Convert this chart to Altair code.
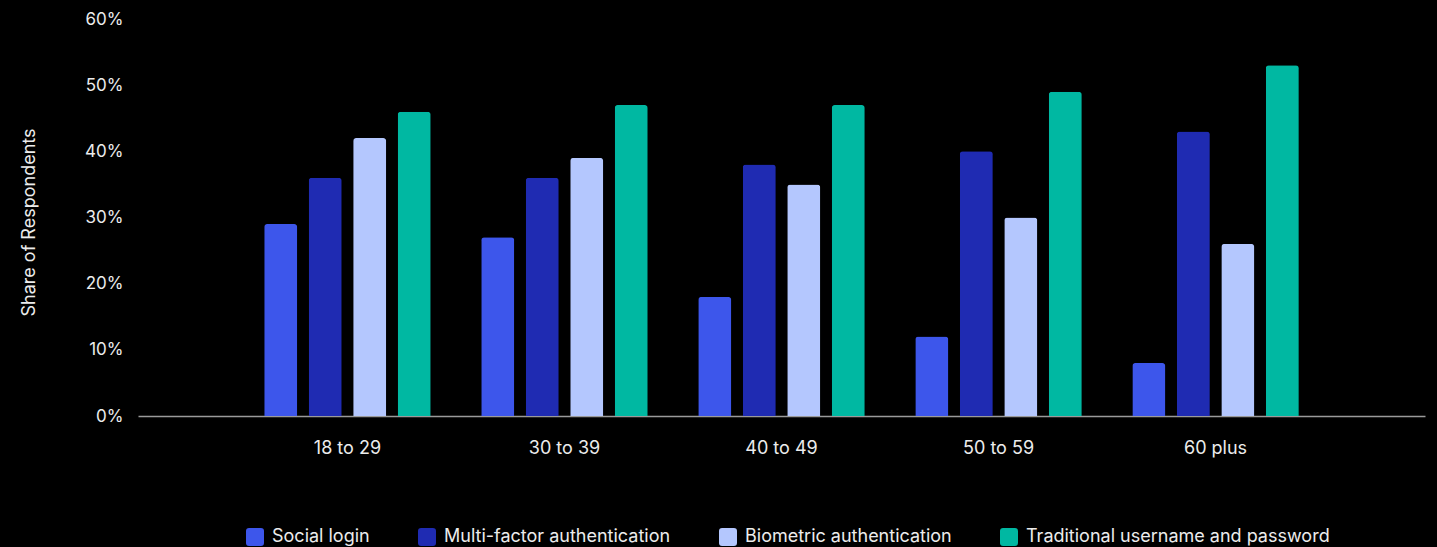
import altair as alt
import pandas as pd

age_groups = ["18 to 29", "30 to 39", "40 to 49", "50 to 59", "60 plus"]
methods = [
    "Social login",
    "Multi-factor authentication",
    "Biometric authentication",
    "Traditional username and password",
]
method_colors = ["#3D56EB", "#1F2BB2", "#B4C7FE", "#00B8A2"]

social_login = [29, 27, 18, 12, 8]
multi_factor = [36, 36, 38, 40, 43]
biometric = [42, 39, 35, 30, 26]
traditional = [46, 47, 47, 49, 53]

series = [social_login, multi_factor, biometric, traditional]
rows = []
for method, values in zip(methods, series):
    for age, v in zip(age_groups, values):
        rows.append({"age": age, "method": method, "share": v})
df = pd.DataFrame(rows)

FONT = "Inter"
TEXT = "#ececec"

rounded_square = (
    "M-0.66,-1 H0.66 Q1,-1 1,-0.66 V0.66 Q1,1 0.66,1 H-0.66 "
    "Q-1,1 -1,0.66 V-0.66 Q-1,-1 -0.66,-1 Z"
)

chart = (
    alt.Chart(df)
    .mark_bar(cornerRadiusTopLeft=3, cornerRadiusTopRight=3)
    .encode(
        x=alt.X(
            "age:N",
            sort=age_groups,
            scale=alt.Scale(paddingInner=0.18, paddingOuter=0.555),
            axis=alt.Axis(
                title=None,
                labelAngle=0,
                labelFontSize=18,
                labelPadding=23,
                ticks=False,
                domainColor="#9a9a9a",
                domainWidth=1.5,
                labelColor=TEXT,
                labelFont=FONT,
            ),
        ),
        xOffset=alt.XOffset(
            "method:N",
            sort=methods,
            scale=alt.Scale(domain=methods, paddingInner=0.258, paddingOuter=0.129),
        ),
        y=alt.Y(
            "share:Q",
            scale=alt.Scale(domain=[0, 60], nice=False),
            axis=alt.Axis(
                title="Share of Respondents",
                values=[0, 10, 20, 30, 40, 50, 60],
                labelExpr="datum.value + '%'",
                grid=False,
                domain=False,
                ticks=False,
                labelPadding=15,
                labelFontSize=17,
                labelColor=TEXT,
                labelFont=FONT,
                titleFont=FONT,
                titleFontSize=18,
                titleFontWeight="normal",
                titleColor=TEXT,
                titleX=-100,
                titleY=203,
            ),
        ),
        color=alt.Color(
            "method:N",
            sort=methods,
            scale=alt.Scale(domain=methods, range=method_colors),
            legend=alt.Legend(
                title=None,
                orient="none",
                direction="horizontal",
                legendX=108,
                legendY=509,
                symbolType=rounded_square,
                symbolSize=324,
                symbolStrokeWidth=0,
                symbolOpacity=1,
                labelFontSize=18,
                labelFont=FONT,
                labelColor=TEXT,
                labelOffset=8,
                columnPadding=48,
                labelLimit=400,
            ),
        ),
    )
    .properties(
        width=1287,
        height=397,
        autosize=alt.AutoSizeParams(type="none"),
        padding={"left": 138, "top": 19, "right": 12, "bottom": 131},
        background="#000000",
    )
    .configure_view(stroke=None)
)

chart.save("out.html", embed_options={"renderer": "svg", "actions": False})
